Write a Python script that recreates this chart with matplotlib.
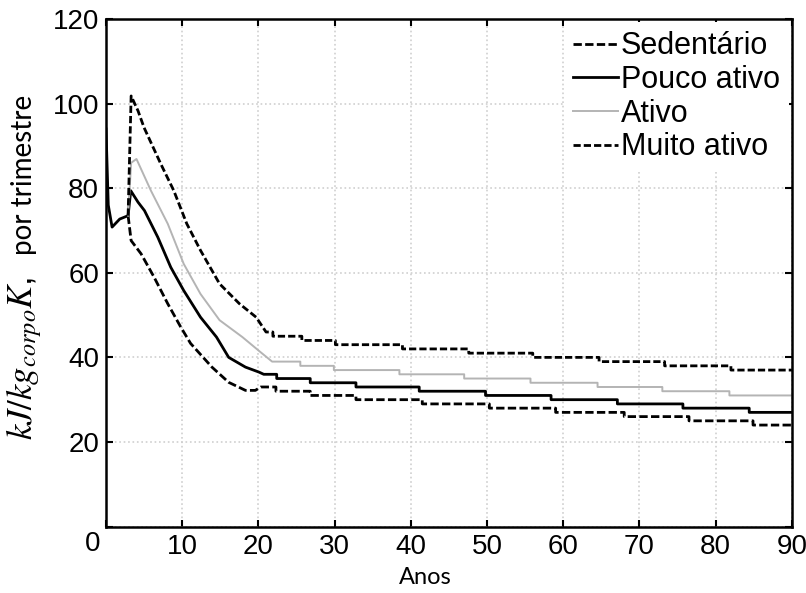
import matplotlib
matplotlib.use("Agg")
import matplotlib.pyplot as plt

plt.rcParams['font.family'] = ['Liberation Sans', 'DejaVu Sans']
plt.rcParams['mathtext.fontset'] = 'stix'

# curve part (x in years, y in kJ/kg) followed by the yearly staircase
sed_x = [2.9, 3.3, 4.6, 6.3, 8.1, 9.8, 11.1, 13.9, 16.1, 18.3, 19.6]
sed_y = [73.5, 67.6, 64.5, 59.0, 52.7, 47.2, 43.3, 37.7, 34.1, 32.2, 32.2]
sed_edges = [20.3, 22.3, 26.8, 32.8, 41.5, 50.3, 59.0, 68.0, 76.5, 84.9, 90]
sed_levels = [33, 32, 31, 30, 29, 28, 27, 26, 25, 24]

pouco_x = [0, 0.3, 0.8, 1.8, 2.9, 3.25, 4.2, 5.05, 6.8, 8.5, 10.2, 12.4, 14.5, 16.1, 18.3, 20.1]
pouco_y = [94, 76, 70.8, 72.7, 73.5, 79.4, 76.7, 74.7, 68.4, 61.3, 55.8, 49.5, 44.8, 40.0, 37.7, 36.5]
pouco_edges = [20.7, 22.4, 26.8, 32.8, 41.1, 49.8, 58.4, 67.1, 75.7, 84.4, 90]
pouco_levels = [36, 35, 34, 33, 32, 31, 30, 29, 28, 27]

ativo_x = [2.9, 3.3, 4.0, 5.9, 8.1, 10.2, 12.4, 14.9, 17.9, 20.1]
ativo_y = [73.5, 86.0, 86.9, 79.4, 71.6, 62.1, 55.0, 48.8, 44.8, 41.5]
ativo_edges = [21.8, 25.5, 29.9, 38.5, 47.0, 55.7, 64.5, 73.0, 81.8, 90]
ativo_levels = [39, 38, 37, 36, 35, 34, 33, 32, 31]

muito_x = [2.9, 3.3, 4.2, 5.0, 7.2, 8.9, 10.6, 12.4, 14.9, 17.5, 19.7]
muito_y = [73.5, 101.8, 98.3, 94.3, 85.7, 79.4, 71.6, 65.3, 57.4, 52.7, 49.5]
muito_edges = [21.0, 21.9, 25.7, 30.1, 38.9, 47.6, 56.0, 64.7, 73.3, 82.0, 90]
muito_levels = [46, 45, 44, 43, 42, 41, 40, 39, 38, 37]

x_ticks = [0, 10, 20, 30, 40, 50, 60, 70, 80, 90]
y_ticks = [0, 20, 40, 60, 80, 100, 120]


def build(cx, cy, edges, levels):
    xs = list(cx)
    ys = list(cy)
    for i, lv in enumerate(levels):
        xs += [edges[i], edges[i + 1]]
        ys += [lv, lv]
    return xs, ys


fig = plt.figure(figsize=(8.06, 5.93), dpi=100)
ax = fig.add_axes([0.1315, 0.112, 0.851, 0.856])

x, y = build(sed_x, sed_y, sed_edges, sed_levels)
ax.plot(x, y, color='black', lw=2.0, dashes=(3.0, 1.2), label='Sedentário')
x, y = build(pouco_x, pouco_y, pouco_edges, pouco_levels)
ax.plot(x, y, color='black', lw=2.0, label='Pouco ativo')
x, y = build(ativo_x, ativo_y, ativo_edges, ativo_levels)
ax.plot(x, y, color='#b4b4b4', lw=1.4, label='Ativo')
x, y = build(muito_x, muito_y, muito_edges, muito_levels)
ax.plot(x, y, color='black', lw=2.0, dashes=(2.6, 1.1), label='Muito ativo')

ax.set_xlim(0, 90)
ax.set_ylim(0, 120)
ax.set_xticks(x_ticks)
ax.set_yticks(y_ticks)
ax.set_xticklabels([''] + [str(t) for t in x_ticks[1:]])
ax.set_yticklabels([''] + [str(t) for t in y_ticks[1:]])
ax.text(-0.019, -0.035, '0', transform=ax.transAxes, ha='center', va='center', fontsize=20)

ax.grid(True, color='#cfcfcf', linestyle=':', linewidth=1.2)
ax.set_axisbelow(True)
ax.tick_params(direction='in', length=5, width=1.5, top=True, right=True,
               labelsize=20, pad=5)
for s in ax.spines.values():
    s.set_linewidth(1.8)

ax.set_xlabel('Anos', fontsize=17, family=['Lato', 'DejaVu Sans'])
ax.xaxis.set_label_coords(0.465, -0.08)

# y label: math units then plain text, stacked along the left edge
ax.text(-0.12, 0.17, r'$kJ/kg_{corpo}K$,', transform=ax.transAxes, rotation=90,
        ha='center', va='bottom', fontsize=25)
ax.text(-0.12, 0.85, 'por trimestre', transform=ax.transAxes, rotation=90,
        ha='center', va='top', fontsize=20, family=['Lato', 'DejaVu Sans'])

leg = ax.legend(loc='upper right', fontsize=22, frameon=True, fancybox=False,
                edgecolor='none', framealpha=1, handlelength=1.45, handletextpad=0.1,
                labelspacing=0.12, borderaxespad=0.1, borderpad=0.3)

fig.savefig('out.png', dpi=100)
